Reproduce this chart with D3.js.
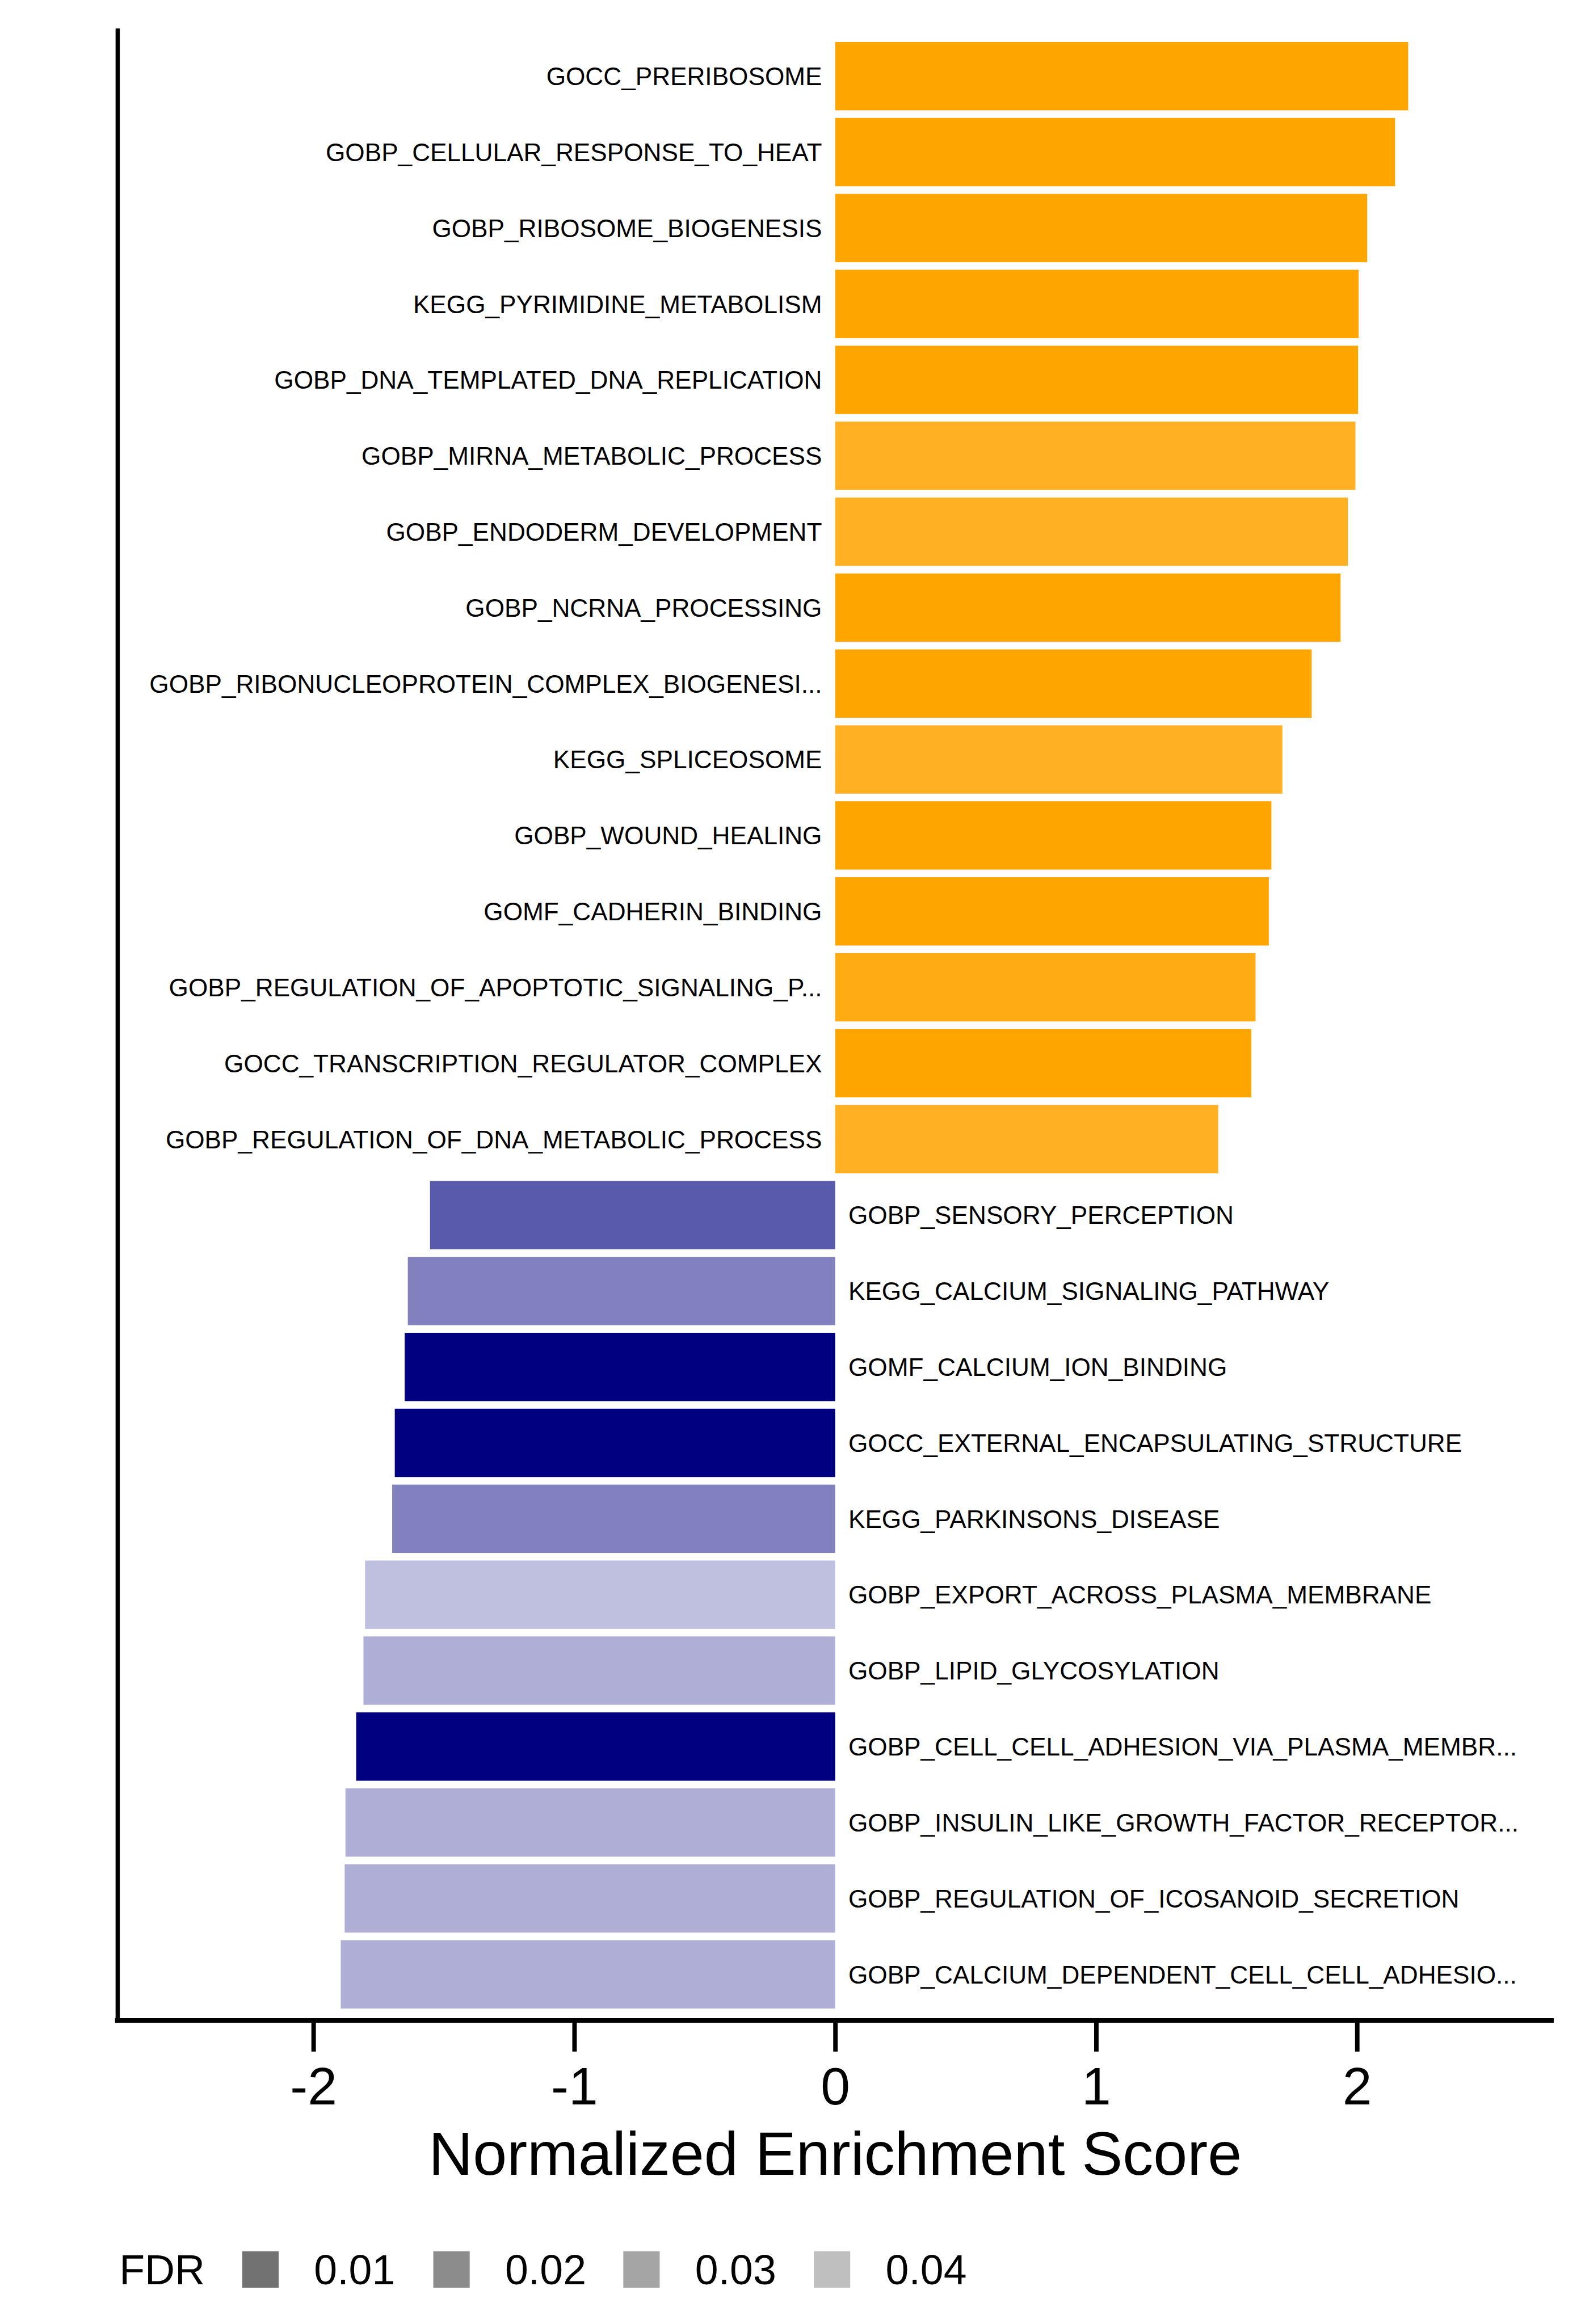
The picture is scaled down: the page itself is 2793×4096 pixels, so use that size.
<!DOCTYPE html>
<html>
<head>
<meta charset="utf-8">
<script src="https://cdn.jsdelivr.net/npm/d3@7"></script>
<style>
  html, body { margin: 0; padding: 0; background: #ffffff; }
  svg { display: block; }
  text { font-family: "Liberation Sans", Arial, Helvetica, sans-serif; fill: #000; }
</style>
</head>
<body>
<svg id="chart" width="2793" height="4096"></svg>
<script>
// ---------------- data ----------------
const pathways = [
  "GOCC_PRERIBOSOME",
  "GOBP_CELLULAR_RESPONSE_TO_HEAT",
  "GOBP_RIBOSOME_BIOGENESIS",
  "KEGG_PYRIMIDINE_METABOLISM",
  "GOBP_DNA_TEMPLATED_DNA_REPLICATION",
  "GOBP_MIRNA_METABOLIC_PROCESS",
  "GOBP_ENDODERM_DEVELOPMENT",
  "GOBP_NCRNA_PROCESSING",
  "GOBP_RIBONUCLEOPROTEIN_COMPLEX_BIOGENESI...",
  "KEGG_SPLICEOSOME",
  "GOBP_WOUND_HEALING",
  "GOMF_CADHERIN_BINDING",
  "GOBP_REGULATION_OF_APOPTOTIC_SIGNALING_P...",
  "GOCC_TRANSCRIPTION_REGULATOR_COMPLEX",
  "GOBP_REGULATION_OF_DNA_METABOLIC_PROCESS",
  "GOBP_SENSORY_PERCEPTION",
  "KEGG_CALCIUM_SIGNALING_PATHWAY",
  "GOMF_CALCIUM_ION_BINDING",
  "GOCC_EXTERNAL_ENCAPSULATING_STRUCTURE",
  "KEGG_PARKINSONS_DISEASE",
  "GOBP_EXPORT_ACROSS_PLASMA_MEMBRANE",
  "GOBP_LIPID_GLYCOSYLATION",
  "GOBP_CELL_CELL_ADHESION_VIA_PLASMA_MEMBR...",
  "GOBP_INSULIN_LIKE_GROWTH_FACTOR_RECEPTOR...",
  "GOBP_REGULATION_OF_ICOSANOID_SECRETION",
  "GOBP_CALCIUM_DEPENDENT_CELL_CELL_ADHESIO..."
];
const nes = [
  2.196, 2.146, 2.039, 2.006, 2.004, 1.994, 1.965, 1.937, 1.826, 1.714,
  1.672, 1.662, 1.611, 1.595, 1.468,
  -1.553, -1.638, -1.650, -1.688, -1.698, -1.802, -1.808, -1.836, -1.877, -1.880, -1.895
];
const fdr = [
  0, 0, 0, 0, 0, 0.009, 0.009, 0, 0, 0.009,
  0, 0, 0.005, 0, 0.009,
  0.023, 0.033, 0, 0, 0.033, 0.049, 0.0445, 0, 0.0445, 0.0445, 0.0445
];
const xTicks = [-2, -1, 0, 1, 2];
const legendBreaks = [0.01, 0.02, 0.03, 0.04];
const legendLabels = ["0.01", "0.02", "0.03", "0.04"];
const xTitle = "Normalized Enrichment Score";
const legendTitle = "FDR";

const rows = pathways.map((p, i) => ({ name: p, nes: nes[i], fdr: fdr[i] }));

// ---------------- layout (reference pixels, scaled by 0.93) ----------------
const S = 0.93;
const panel = { left: 222, right: 2943, top: 58, bottom: 3828 };
const svg = d3.select("#chart");
const g = svg.append("g").attr("transform", `scale(${S})`);

const x = d3.scaleLinear().domain([-2.752, 2.752]).range([panel.left, panel.right]);
const y = d3.scaleBand().domain(pathways).range([panel.top, panel.bottom])
  .paddingInner(0.1).paddingOuter(0.15);
const alpha = d3.scaleLinear().domain([0, 0.05]).range([1, 0.235]);
const posColor = "#FFA500", negColor = "#000080";

// bars
g.append("g").selectAll("rect").data(rows).join("rect")
  .attr("x", d => x(Math.min(0, d.nes)))
  .attr("width", d => Math.abs(x(d.nes) - x(0)))
  .attr("y", d => y(d.name))
  .attr("height", y.bandwidth())
  .attr("fill", d => d.nes >= 0 ? posColor : negColor)
  .attr("fill-opacity", d => alpha(d.fdr));

// bar labels
const labFs = 47.5;
g.append("g").selectAll("text").data(rows).join("text")
  .attr("x", d => d.nes >= 0 ? x(0) - 25 : x(0) + 25)
  .attr("y", d => y(d.name) + y.bandwidth() / 2 + 0.358 * labFs)
  .attr("text-anchor", d => d.nes >= 0 ? "end" : "start")
  .style("font-size", labFs + "px")
  .text(d => d.name);

// x axis
const axisG = g.append("g").attr("transform", `translate(0,${panel.bottom + 1})`)
  .call(d3.axisBottom(x).tickValues(xTicks).tickFormat(d3.format("d")).tickSize(59).tickSizeOuter(0));
axisG.select(".domain").remove();
axisG.selectAll(".tick line").attr("stroke", "#000").attr("stroke-width", 8.5);
axisG.selectAll(".tick text")
  .attr("y", 159).attr("dy", 0)
  .style("font-size", "100px")
  .style("font-family", '"Liberation Sans", Arial, sans-serif')
  .text(d => d < 0 ? "-" + Math.abs(d) : String(d));

// axis lines
g.append("line")
  .attr("x1", panel.left - 4).attr("x2", panel.right + 1)
  .attr("y1", panel.bottom + 1).attr("y2", panel.bottom + 1)
  .attr("stroke", "#000").attr("stroke-width", 8.5);
g.append("line")
  .attr("x1", panel.left + 1).attr("x2", panel.left + 1)
  .attr("y1", 54).attr("y2", panel.bottom + 5)
  .attr("stroke", "#000").attr("stroke-width", 8);

// x title
g.append("text")
  .attr("x", (panel.left + panel.right) / 2)
  .attr("y", 4122)
  .attr("text-anchor", "middle")
  .style("font-size", "116px")
  .text(xTitle);

// legend
const legFs = 79;
const legY = 4301;
g.append("text").attr("x", 226).attr("y", legY + 0.358 * legFs)
  .style("font-size", legFs + "px").text(legendTitle);
const keyX = [459, 821, 1181, 1542];
const lab = g.append("g").selectAll("g").data(legendBreaks).join("g");
lab.append("rect")
  .attr("x", (d, i) => keyX[i]).attr("y", legY - 34.5)
  .attr("width", 69).attr("height", 69)
  .attr("fill", "#595959").attr("fill-opacity", d => alpha(d));
lab.append("text")
  .attr("x", (d, i) => keyX[i] + 136)
  .attr("y", legY + 0.358 * legFs)
  .style("font-size", legFs + "px")
  .text((d, i) => legendLabels[i]);
</script>
</body>
</html>
